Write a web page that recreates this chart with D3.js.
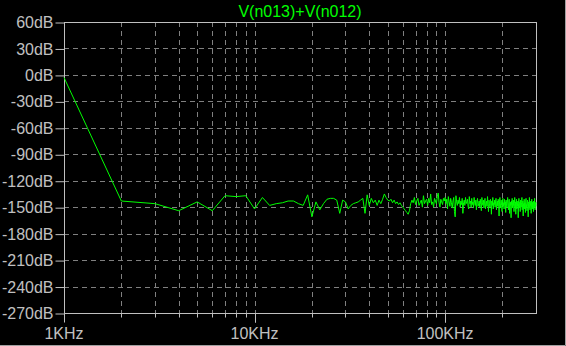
<!DOCTYPE html>
<html>
<head>
<meta charset="utf-8">
<script src="https://cdn.jsdelivr.net/npm/d3@7"></script>
<style>
  html, body { margin: 0; padding: 0; background: #000; }
  svg { display: block; }
</style>
</head>
<body>
<div id="chart"></div>
<script>
// trace name and axis ticks
var traceName = "V(n013)+V(n012)";
var dbTicks = [60, 30, 0, -30, -60, -90, -120, -150, -180, -210, -240, -270];
var freqLabels = [1000, 10000, 100000];

// frequency samples in kHz, 1kHz steps (1..300)
var freqKHz = d3.range(1, 301);

// magnitude (dB), one per sample
var magDb = [
  -3, -143, -146, -154, -144, -154, -137, -138, -137, -152,
  -139, -148, -146, -145, -143, -143, -146, -148, -136, -161,
  -144, -153, -146, -141, -140, -140, -142, -157, -142, -144,
  -152, -148, -146, -145, -144, -142, -140, -157, -136, -148,
  -140, -145, -142, -148, -142, -146, -141, -135, -139, -142,
  -143, -141, -145, -142, -146, -144, -147, -145, -148, -150,
  -152, -154, -156, -158, -154, -146, -142, -145, -139, -147,
  -143, -140, -148, -145, -142, -150, -137, -146, -143, -141,
  -148, -140, -145, -135, -147, -144, -150, -140, -143, -146,
  -138, -134, -145, -150, -141, -144, -147, -140, -143, -139,
  -146, -141, -152, -138, -144, -149, -140, -145, -151, -143,
  -139, -155, -161, -137, -144, -148, -142, -146, -139, -150,
  -143, -147, -140, -157, -145, -142, -148, -139, -146, -144,
  -141, -149, -152, -138, -146, -143, -150, -140, -147, -144,
  -151, -139, -145, -148, -142, -153, -144, -140, -149, -146,
  -143, -150, -141, -147, -154, -139, -145, -148, -142, -151,
  -144, -140, -152, -146, -143, -149, -138, -147, -155, -142,
  -146, -150, -141, -144, -158, -143, -148, -139, -152, -145,
  -147, -142, -150, -144, -140, -153, -146, -143, -149, -141,
  -145, -160, -144, -139, -151, -146, -142, -148, -155, -143,
  -140, -149, -145, -152, -141, -147, -144, -156, -142, -146,
  -150, -143, -139, -148, -153, -145, -141, -157, -146, -144,
  -149, -162, -143, -147, -140, -151, -145, -148, -142, -155,
  -146, -139, -150, -144, -158, -147, -141, -152, -145, -149,
  -143, -162, -146, -140, -151, -148, -144, -155, -142, -147,
  -150, -145, -139, -153, -147, -143, -160, -146, -149, -141,
  -152, -145, -148, -156, -143, -140, -150, -147, -154, -145,
  -142, -149, -161, -146, -144, -151, -139, -147, -153, -145,
  -148, -143, -157, -146, -141, -150, -145, -152, -144, -148,
  -155, -143, -147, -150, -140, -146, -153, -145, -149, -144
];

var width = 566, height = 346;
var margin = {top: 22, right: 30, bottom: 33, left: 64};
var axisColor = "#c0c0c0", gridColor = "#808080", traceColor = "#00ff00";
var font = "'Liberation Sans', Arial, sans-serif";

var svg = d3.select("#chart").append("svg")
  .attr("width", width)
  .attr("height", height)
  .style("background", "#000");

var x = d3.scaleLog()
  .domain([1000, 300000])
  .range([margin.left, width - margin.right]);

var y = d3.scaleLinear()
  .domain([-270, 60])
  .range([height - margin.bottom, margin.top]);

// vertical grid at every 1-2-..-9 step
var gridFreqs = [];
[1000, 10000, 100000].forEach(function(dec) {
  for (var k = 1; k <= 9; k++) {
    var f = dec * k;
    if (f > 1000 && f < 300000) gridFreqs.push(f);
  }
});

svg.append("g").selectAll("line")
  .data(gridFreqs)
  .enter().append("line")
  .attr("x1", function(d) { return Math.round(x(d)) + 0.5; })
  .attr("x2", function(d) { return Math.round(x(d)) + 0.5; })
  .attr("y1", y(60))
  .attr("y2", y(-270))
  .attr("stroke", gridColor)
  .attr("stroke-dasharray", "5,4");

svg.append("g").selectAll("line")
  .data(dbTicks.filter(function(d) { return d > -270 && d < 60; }))
  .enter().append("line")
  .attr("x1", x(1000))
  .attr("x2", x(300000))
  .attr("y1", function(d) { return Math.round(y(d)) + 0.5; })
  .attr("y2", function(d) { return Math.round(y(d)) + 0.5; })
  .attr("stroke", gridColor)
  .attr("stroke-dasharray", "5,4");

// frame
svg.append("rect")
  .attr("x", Math.round(x(1000)) + 0.5)
  .attr("y", Math.round(y(60)) + 0.5)
  .attr("width", Math.round(x(300000)) - Math.round(x(1000)))
  .attr("height", Math.round(y(-270)) - Math.round(y(60)))
  .attr("fill", "none")
  .attr("stroke", axisColor);

// y axis ticks + labels
var yAxis = d3.axisLeft(y)
  .tickValues(dbTicks)
  .tickSize(9)
  .tickPadding(2)
  .tickFormat(function(d) { return d + "dB"; });

var gy = svg.append("g")
  .attr("transform", "translate(" + (Math.round(x(1000)) + 0.5) + ",0.5)")
  .call(yAxis);
gy.select(".domain").remove();
gy.selectAll("line").attr("stroke", axisColor);
gy.selectAll("text")
  .attr("fill", axisColor)
  .style("font-family", font)
  .style("font-size", "16px");

// x axis: minor ticks short, decade ticks long
var gx = svg.append("g")
  .attr("transform", "translate(0," + (Math.round(y(-270)) + 0.5) + ")");
gx.selectAll("line")
  .data(gridFreqs.concat(freqLabels))
  .enter().append("line")
  .attr("x1", function(d) { return Math.round(x(d)) + 0.5; })
  .attr("x2", function(d) { return Math.round(x(d)) + 0.5; })
  .attr("y1", 0)
  .attr("y2", function(d) { return freqLabels.indexOf(d) >= 0 ? 9 : 4; })
  .attr("stroke", axisColor);
gx.selectAll("text")
  .data(freqLabels)
  .enter().append("text")
  .attr("x", function(d) { return x(d); })
  .attr("y", 25)
  .attr("text-anchor", "middle")
  .attr("fill", axisColor)
  .style("font-family", font)
  .style("font-size", "16px")
  .text(function(d) { return d3.format("~s")(d).replace("k", "KHz"); });

// title
svg.append("text")
  .attr("x", (x(1000) + x(300000)) / 2)
  .attr("y", 17)
  .attr("text-anchor", "middle")
  .attr("fill", traceColor)
  .style("font-family", font)
  .style("font-size", "16px")
  .text(traceName);

// trace
var line = d3.line()
  .x(function(d, i) { return x(freqKHz[i] * 1000); })
  .y(function(d) { return y(d); });

svg.append("path")
  .datum(magDb)
  .attr("d", line)
  .attr("fill", "none")
  .attr("stroke", traceColor)
  .attr("stroke-width", 1);

// window edge
svg.append("path")
  .attr("d", "M" + (width - 0.5) + ",0V" + (height - 0.5) + "H0")
  .attr("fill", "none")
  .attr("stroke", "#a0a0a0");
</script>
</body>
</html>
